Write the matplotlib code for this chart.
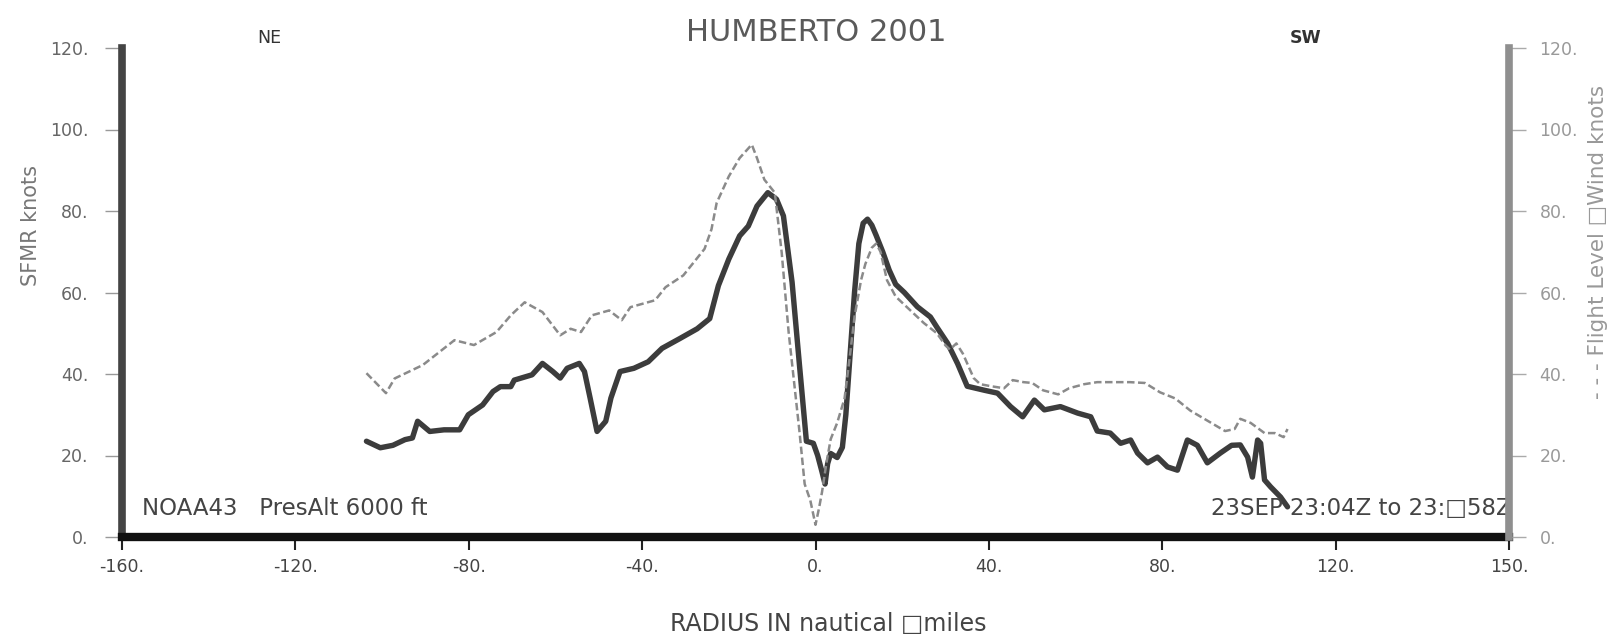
import matplotlib.pyplot as plt

plt.rcParams['font.family'] = ['DejaVu Sans']

# SFMR surface wind along the radial leg (nmi, knots)
sfmr_r = [-103.6, -100.4, -97.5, -94.7, -93.0, -91.8, -89.0, -85.7, -82.1, -80.1,
          -76.8, -74.4, -72.7, -70.3, -69.5, -65.4, -63.0, -60.6, -58.9, -57.3,
          -54.5, -53.3, -52.0, -50.4, -48.4, -47.2, -45.1, -41.9, -38.6, -35.4,
          -31.3, -27.3, -24.4, -22.4, -20.0, -17.5, -15.5, -13.5, -11.0, -9.0,
          -7.4, -5.4, -3.7, -2.1, -0.5, 0.5, 1.5, 2.2, 2.8, 3.5,
          5.0, 6.2, 7.0, 8.0, 9.0, 10.0, 11.0, 12.0, 13.0, 14.0,
          15.5, 17.0, 18.5, 20.5, 23.5, 26.5, 28.0, 30.5, 32.8, 35.0,
          39.0, 42.0, 45.0, 47.8, 50.5, 52.8, 56.5, 60.5, 63.5, 65.0,
          68.0, 70.4, 72.7, 74.3, 76.6, 78.9, 81.2, 83.5, 85.8, 88.1,
          90.4, 93.4, 96.0, 98.0, 99.7, 100.8, 102.0, 102.7, 103.6, 105.0,
          107.3, 108.9]
sfmr_kt = [23.5, 21.9, 22.5, 23.9, 24.3, 28.4, 25.9, 26.3, 26.3, 30.0,
           32.4, 35.7, 36.9, 36.9, 38.5, 39.8, 42.6, 40.6, 39.0, 41.4,
           42.6, 40.6, 34.1, 25.9, 28.4, 34.1, 40.6, 41.4, 43.0, 46.3,
           48.7, 51.1, 53.6, 61.7, 68.2, 73.9, 76.3, 81.2, 84.5, 82.9,
           78.8, 62.5, 42.2, 23.5, 23.0, 20.0, 16.0, 13.0, 18.0, 20.5,
           19.5, 22.0, 30.0, 45.0, 60.0, 72.0, 77.0, 78.0, 76.5, 74.0,
           70.0, 65.5, 62.0, 60.0, 56.5, 54.0, 51.5, 47.5, 42.5, 37.0,
           36.0, 35.3, 32.0, 29.5, 33.6, 31.2, 32.0, 30.4, 29.5, 26.0,
           25.5, 23.0, 23.8, 20.6, 18.2, 19.6, 17.2, 16.4, 23.8, 22.5,
           18.2, 20.6, 22.5, 22.6, 19.6, 14.7, 23.8, 23.0, 14.0, 12.3,
           9.8, 7.4]

# flight-level wind (nmi, knots)
fl_r = [-103.6, -99.1, -97.1, -90.6, -83.3, -78.8, -73.6, -70.3, -67.1, -63.0,
        -58.9, -56.5, -54.1, -51.6, -47.6, -44.7, -42.7, -37.0, -34.6, -30.5,
        -25.6, -24.0, -22.8, -20.0, -17.5, -14.7, -13.5, -11.8, -9.4, -7.8,
        -6.2, -3.7, -2.5, -1.2, 0.0, 0.8, 1.5, 2.5, 3.5, 5.0,
        6.7, 8.0, 9.0, 10.5, 11.5, 13.0, 14.0, 15.0, 16.5, 18.5,
        20.0, 22.0, 25.0, 28.0, 30.0, 31.0, 32.5, 34.0, 36.5, 38.0,
        40.5, 43.5, 45.5, 48.0, 50.0, 52.5, 56.0, 58.5, 62.0, 65.0,
        68.0, 72.5, 76.0, 79.5, 83.0, 86.5, 90.5, 94.5, 96.7, 98.0,
        100.4, 103.6, 106.0, 108.0, 108.9]
fl_kt = [40.2, 35.3, 38.9, 42.2, 48.3, 47.1, 50.3, 54.4, 57.6, 55.2,
         49.5, 51.1, 50.3, 54.4, 55.6, 53.2, 56.4, 58.1, 61.3, 64.2,
         70.7, 75.5, 82.0, 88.5, 93.0, 96.3, 93.0, 87.7, 84.5, 69.8,
         50.3, 25.9, 13.0, 9.0, 3.0, 7.0, 11.0, 18.0, 24.0, 28.0,
         34.0, 45.0, 54.0, 63.0, 67.0, 71.0, 72.0, 70.0, 63.0, 59.0,
         57.5, 55.5, 52.5, 50.0, 47.0, 46.0, 47.5, 45.0, 39.0, 37.5,
         37.0, 36.5, 38.5, 38.0, 37.8, 36.0, 35.0, 36.5, 37.5, 38.0,
         38.0, 38.0, 37.8, 35.5, 34.0, 31.0, 28.5, 26.0, 26.5, 29.0,
         28.0, 25.5, 25.5, 24.5, 26.5]

xticks = [-160, -120, -80, -40, 0, 40, 80, 120, 160]
xtick_labels = ['-160.', '-120.', '-80.', '-40.', '0.', '40.', '80.', '120.', '150.']
yticks = [0, 20, 40, 60, 80, 100, 120]
ytick_labels = ['0.', '20.', '40.', '60.', '80.', '100.', '120.']

fig = plt.figure(figsize=(16.17, 6.44), dpi=100)
ax = fig.add_axes([122 / 1617, 1 - 537 / 644, 1387 / 1617, 489 / 644])
ax2 = ax.twinx()

ax.plot(sfmr_r, sfmr_kt, color='#3c3c3c', lw=3.9,
        solid_joinstyle='round', solid_capstyle='round', zorder=3)
ax2.plot(fl_r, fl_kt, color='#8a8a8a', lw=1.8, dashes=(3, 1.4), zorder=2)

for a in (ax, ax2):
    a.set_xlim(-160, 160)
    a.set_ylim(0, 120)
    a.set_yticks(yticks)
    a.set_yticklabels(ytick_labels)
    a.spines['top'].set_visible(False)

ax.set_xticks(xticks)
ax.set_xticklabels(xtick_labels)

ax.spines['left'].set_color('#444444')
ax.spines['left'].set_linewidth(5.5)
ax.spines['bottom'].set_color('#111111')
ax.spines['bottom'].set_linewidth(6)
ax.spines['right'].set_visible(False)
ax2.spines['left'].set_visible(False)
ax2.spines['bottom'].set_visible(False)
ax2.spines['right'].set_color('#8f8f8f')
ax2.spines['right'].set_linewidth(5.5)

ax.tick_params(axis='y', direction='out', length=12, width=1, color='#999999',
               labelcolor='#666666', labelsize=12.5, pad=12)
ax2.tick_params(axis='y', direction='out', length=12, width=1, color='#aaaaaa',
                labelcolor='#999999', labelsize=12.5, pad=10)
ax.tick_params(axis='x', direction='out', length=9, width=1.5, color='#222222',
               labelcolor='#444444', labelsize=12.5, pad=6)

ax.text(-126, 122.5, 'NE', ha='center', va='center', fontsize=12.5,
        color='#333333', clip_on=False)
ax.text(113, 122.5, 'SW', ha='center', va='center', fontsize=12.5,
        color='#333333', fontweight='bold', clip_on=False)
ax.text(-155.5, 7, 'NOAA43   PresAlt 6000 ft', ha='left', va='center',
        fontsize=16.5, color='#444444')
ax.text(160.5, 7, '23SEP 23:04Z to 23:\u25a158Z', ha='right', va='center',
        fontsize=16.5, color='#444444')

fig.text(0.505, 0.949, 'HUMBERTO 2001', ha='center', va='center',
         fontsize=22, color='#5a5a5a')
fig.text(0.512, 0.031, 'RADIUS IN nautical \u25a1miles', ha='center', va='center',
         fontsize=17, color='#444444')
fig.text(31 / 1617, 1 - 225 / 644, 'SFMR knots', rotation=90, ha='center',
         va='center', fontsize=15, color='#777777')
fig.text(1598 / 1617, 1 - 242 / 644, '- - - Flight Level \u25a1Wind knots',
         rotation=90, ha='center', va='center', fontsize=15.5, color='#999999')

fig.savefig('out.png', dpi=100)
